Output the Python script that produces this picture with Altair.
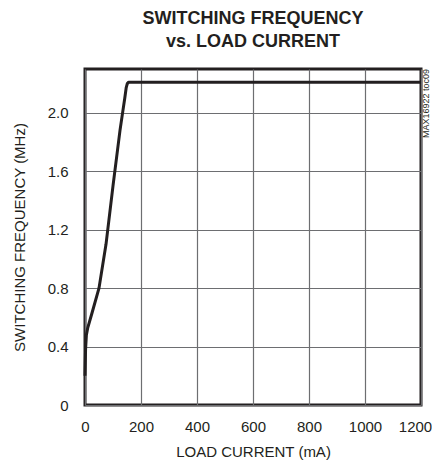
import altair as alt
import pandas as pd

# Curve
load_current_ma = [0, 2, 5, 10, 25, 50, 75, 100, 125, 135, 142, 147, 151, 156, 165, 200, 400, 600, 800, 1000, 1200]
frequency_mhz = [0.20, 0.38, 0.48, 0.53, 0.63, 0.80, 1.10, 1.50, 1.88, 2.01, 2.10, 2.17, 2.20, 2.21, 2.21, 2.21, 2.21, 2.21, 2.21, 2.21, 2.21]

x_ticks = [0, 200, 400, 600, 800, 1000, 1200]
y_ticks = [0, 0.4, 0.8, 1.2, 1.6, 2.0]

FONT = "Liberation Sans"

df = pd.DataFrame({"current": load_current_ma, "freq": frequency_mhz})

x_scale = alt.Scale(domain=[0, 1200], nice=False, zero=False)
y_scale = alt.Scale(domain=[0, 2.3], nice=False, zero=False)

line = alt.Chart(df).mark_line(color="#231f20", strokeWidth=3, interpolate="linear",
                               strokeJoin="round").encode(
    x=alt.X("current:Q", scale=x_scale,
            axis=alt.Axis(values=x_ticks, title="LOAD CURRENT (mA)", grid=True, format="d",
                          labelOverlap=False, labelFlush=False,
                          labelOffset={"condition": {"test": "datum.value == 1200", "value": -6}, "value": 0},
                          domain=False, ticks=False, labelPadding=14, titlePadding=10,
                          labelFontSize=15, titleFontSize=15, labelFont=FONT, titleFont=FONT,
                          labelColor="#231f20", titleColor="#231f20", titleFontWeight="normal",
                          gridColor="#6d6e71", gridWidth=1.2, gridOpacity=1)),
    y=alt.Y("freq:Q", scale=y_scale,
            axis=alt.Axis(values=y_ticks, title="SWITCHING FREQUENCY (MHz)", grid=True,
                          labelOverlap=False, labelFlush=False,
                          domain=False, ticks=False, labelPadding=17, titlePadding=20,
                          labelExpr="datum.value == 0 ? '0' : format(datum.value, '.1f')",
                          labelFontSize=15, titleFontSize=15, labelFont=FONT, titleFont=FONT,
                          labelColor="#231f20", titleColor="#231f20", titleFontWeight="normal",
                          gridColor="#6d6e71", gridWidth=1.2, gridOpacity=1)),
)

note = alt.Chart(pd.DataFrame({"t": ["MAX16922 toc09"]})).mark_text(
    angle=270, align="right", baseline="middle", fontSize=9, font=FONT, color="#231f20"
).encode(x=alt.value(341), y=alt.value(0), text="t:N")

chart = alt.layer(line, note).properties(
    width=336, height=336,
    background="white",
    title=alt.Title(["SWITCHING FREQUENCY", "vs. LOAD CURRENT"], anchor="middle",
                    fontSize=18, font=FONT, fontWeight="bold", color="#231f20",
                    lineHeight=23, offset=18),
    autosize=alt.AutoSizeParams(type="none"),
    padding={"left": 77, "top": 61, "right": 11, "bottom": 55},
).configure_view(stroke="#231f20", strokeWidth=3)

chart.save("out.html", embed_options={"renderer": "svg", "actions": False})
